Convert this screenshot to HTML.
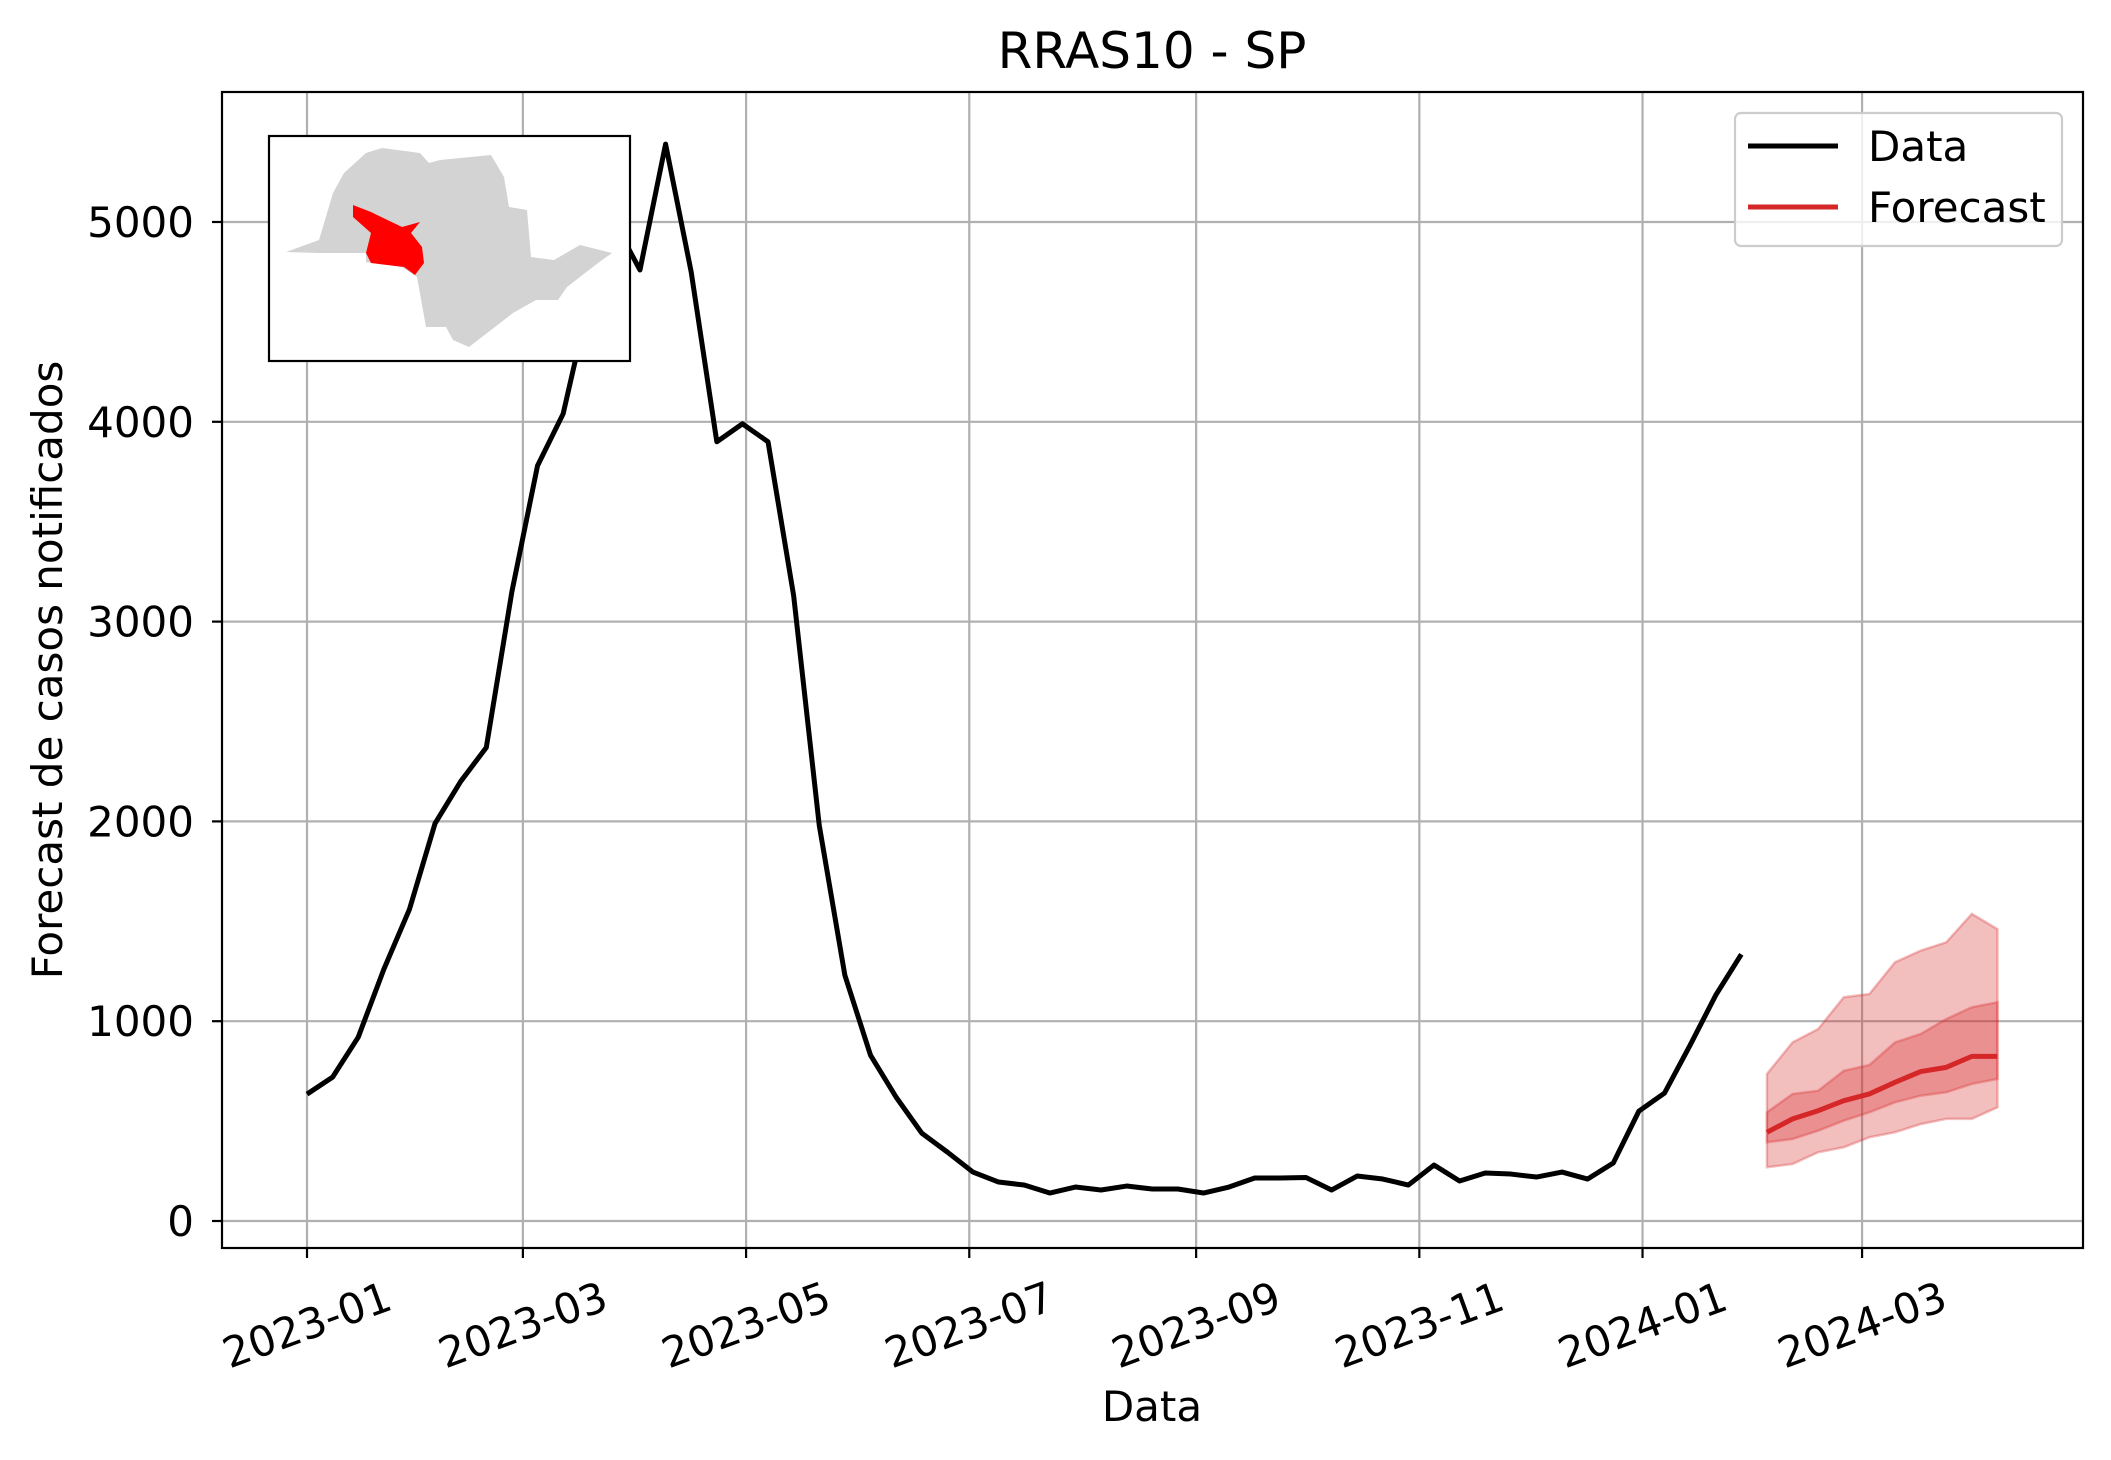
<!DOCTYPE html>
<html><head><meta charset="utf-8"><style>
html,body{margin:0;padding:0;background:#fff;}
svg{display:block;font-family:"DejaVu Sans","Liberation Sans",sans-serif;}
</style></head><body>
<svg id="chart" width="2111" height="1460" viewBox="0 0 2111 1460" xmlns="http://www.w3.org/2000/svg"></svg>
<script>
const dataStartDay = 0; // 2023-01-01
const dataValues = [635,720,920,1260,1560,1990,2200,2370,3150,3780,4040,4600,5000,4760,5390,4750,3900,3990,3900,3130,1980,1230,830,620,440,345,245,195,180,140,170,155,175,160,160,140,170,215,215,218,155,225,210,180,280,200,240,235,220,245,210,290,550,640,880,1130,1335];
const fcStartDay = 399;
const fcMedian = [444,511,552,602,636,694,748,769,824,824];
const fcInnerUpper = [544,636,652,752,781,894,936,1011,1070,1095];
const fcInnerLower = [394,410,452,502,544,594,627,644,686,711];
const fcOuterUpper = [736,894,961,1120,1136,1295,1353,1395,1537,1461];
const fcOuterLower = [269,285,344,369,419,444,485,511,511,569];
const yTicks = [0,1000,2000,3000,4000,5000];
const xTickDays = [0,59,120,181,243,304,365,425];
const xTickLabels = ["2023-01","2023-03","2023-05","2023-07","2023-09","2023-11","2024-01","2024-03"];

const NS="http://www.w3.org/2000/svg";
const svg=document.getElementById('chart');
const L=222,R=2083,T=92,B=1248;
function X(d){return 307+d*3.659;}
function Y(v){return 1221-v*0.1998;}
function mk(tag,attrs,parent){const e=document.createElementNS(NS,tag);for(const k in attrs)e.setAttribute(k,attrs[k]);(parent||svg).appendChild(e);return e;}

xTickDays.forEach((d,i)=>{
  const g=mk('line',{x1:X(d),x2:X(d),y1:T,y2:B,stroke:'#b0b0b0','stroke-width':2.2});
  
  
  const t=mk('line',{x1:X(d),x2:X(d),y1:B,y2:B+10,stroke:'#000','stroke-width':2.2});
  
  
  const x=X(d),y=1325;
  const lb=mk('text',{x:x,y:y,'font-size':42,'text-anchor':'middle','dominant-baseline':'central',transform:`rotate(-20 ${x} ${y})`});
  lb.textContent=xTickLabels[i];
  
  
});
yTicks.forEach(v=>{
  const g=mk('line',{x1:L,x2:R,y1:Y(v),y2:Y(v),stroke:'#b0b0b0','stroke-width':2.2});
  
  
  const t=mk('line',{x1:L-10,x2:L,y1:Y(v),y2:Y(v),stroke:'#000','stroke-width':2.2});
  
  
  const lb=mk('text',{x:L-28,y:Y(v)+15,'font-size':42,'text-anchor':'end'});
  lb.textContent=v;
  
  
});

function band(up,lo,op,name){
  const pts=[];
  up.forEach((v,i)=>pts.push(X(fcStartDay+7*i)+','+Y(v)));
  for(let i=lo.length-1;i>=0;i--)pts.push(X(fcStartDay+7*i)+','+Y(lo[i]));
  const p=mk('polygon',{points:pts.join(' '),fill:'#d62728','fill-opacity':op,stroke:'#d62728','stroke-opacity':op,'stroke-width':2.5});
  
  
}
band(fcOuterUpper,fcOuterLower,0.3,'forecast-outer-band');
band(fcInnerUpper,fcInnerLower,0.3,'forecast-inner-band');

const dl=mk('polyline',{points:dataValues.map((v,i)=>X(dataStartDay+7*i)+','+Y(v)).join(' '),fill:'none',stroke:'#000','stroke-width':5,'stroke-linejoin':'round'});


const fl=mk('polyline',{points:fcMedian.map((v,i)=>X(fcStartDay+7*i)+','+Y(v)).join(' '),fill:'none',stroke:'#d62728','stroke-width':5,'stroke-linejoin':'round'});



const fr=mk('rect',{x:L,y:T,width:R-L,height:B-T,fill:'none',stroke:'#000','stroke-width':2.2});



const ig=mk('g',{});


mk('rect',{x:269,y:136,width:361,height:225,fill:'#fff',stroke:'#000','stroke-width':2.2},ig);
const st=mk('polygon',{points:'286,252 319,240 333,193 344,173 366,153 382,148 420,153 429,163 440,160 491,155 504,177 509,207 527,210 531,257 554,260 580,245 612,253 598,263 567,287 558,300 536,300 513,313 491,330 469,347 453,340 446,327 426,327 417,277 402,267 366,262 366,253 319,253',fill:'#d3d3d3'},ig);


const rg=mk('polygon',{points:'353,205 371,212 402,227 420,222 411,233 422,247 424,263 415,275 404,267 371,263 366,253 371,233 353,217',fill:'#ff0000'},ig);



const lg=mk('g',{});


mk('rect',{x:1735,y:113,width:327,height:133,rx:6,fill:'#fff','fill-opacity':0.8,stroke:'#ccc','stroke-width':2.2},lg);
const e1=mk('line',{x1:1748,x2:1838,y1:146,y2:146,stroke:'#000','stroke-width':5},lg);


const t1=mk('text',{x:1868,y:161,'font-size':42},lg);t1.textContent='Data';


const e2=mk('line',{x1:1748,x2:1838,y1:207,y2:207,stroke:'#d62728','stroke-width':5},lg);


const t2=mk('text',{x:1868,y:222,'font-size':42},lg);t2.textContent='Forecast';



const ti=mk('text',{x:1152,y:68,'font-size':50,'text-anchor':'middle'});ti.textContent='RRAS10 - SP';


const xl=mk('text',{x:1152,y:1421,'font-size':42,'text-anchor':'middle'});xl.textContent='Data';


const yl=mk('text',{x:62,y:670,'font-size':42,'text-anchor':'middle',transform:'rotate(-90 62 670)'});yl.textContent='Forecast de casos notificados';


</script>
</body></html>
